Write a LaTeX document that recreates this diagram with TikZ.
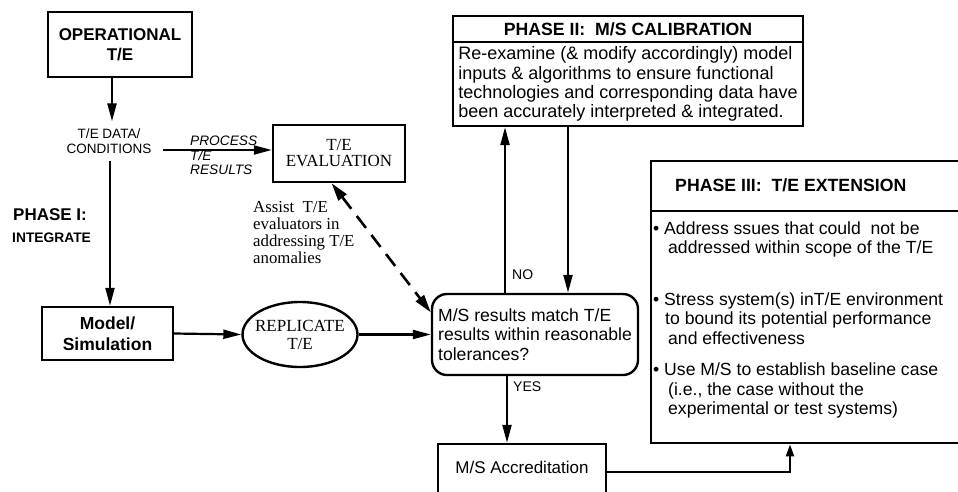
\documentclass[tikz,border=0pt]{standalone}
\usepackage{fontspec}
\setmainfont{Liberation Serif}
\setsansfont{Liberation Sans}
\usetikzlibrary{arrows.meta,shapes.geometric}
\begin{document}
\begin{tikzpicture}[x=1pt,y=-1pt,
  box/.style={draw, line width=2.4pt, inner sep=0pt, align=center},
  link/.style={line width=2.2pt, -{Triangle[length=18pt,width=9pt]}},
  smalllink/.style={line width=2.2pt, -{Triangle[length=12pt,width=8pt]}},
  dashlink/.style={line width=2.6pt, dash pattern=on 15pt off 9pt,
    {Triangle[length=18pt,width=10pt]}-{Triangle[length=18pt,width=10pt]}},
  sanstext/.style={font=\fontsize{17.6}{19.3}\selectfont\sffamily, align=left, inner sep=0pt},
  tag/.style={font=\fontsize{14}{16}\selectfont\sffamily, inner sep=0pt, anchor=west}]

\path[use as bounding box, clip] (0,0) rectangle (958,491);
\fill[white] (0,0) rectangle (958,491);

% ---- Phase I column ----
\node[box, minimum width=144pt, minimum height=65pt,
      font=\fontsize{17}{20}\selectfont\sffamily\bfseries] (op) at (120,44.5) {OPERATIONAL\\T/E};
\node[font=\fontsize{13.5}{15}\selectfont\sffamily, align=center,
      inner xsep=11pt, inner ysep=7pt] (data) at (109,141) {T/E DATA/\\CONDITIONS};
\node[font=\fontsize{17}{20}\selectfont\sffamily\bfseries, anchor=west, inner sep=0pt] (ph1) at (13,215) {PHASE I:};
\node[font=\fontsize{13.8}{16}\selectfont\sffamily\bfseries, anchor=west, inner sep=0pt] (integ) at (12,238) {INTEGRATE};
\node[box, minimum width=131pt, minimum height=53pt,
      font=\fontsize{17.5}{21}\selectfont\sffamily\bfseries] (model) at (107.5,333.5) {Model/\\Simulation};

% ---- evaluation branch ----
\node[box, minimum width=132pt, minimum height=57pt,
      font=\fontsize{17}{16}\selectfont\rmfamily] (eval) at (339,153.5) {T/E\\EVALUATION};
\node[font=\fontsize{13.7}{14.5}\selectfont\sffamily\itshape, align=left, anchor=west,
      inner sep=0pt] (proc) at (190,155.5) {PROCESS\\T/E\\RESULTS};
\node[font=\fontsize{16.8}{17}\selectfont\rmfamily, align=left, anchor=west,
      inner sep=0pt] (assist) at (253,232.5) {Assist\ \ T/E\\evaluators in\\addressing T/E\\anomalies};

\node[ellipse, draw, line width=2.4pt, minimum width=115pt, minimum height=65pt, inner sep=0pt,
      label={[font=\fontsize{17}{18}\selectfont\rmfamily, align=center]center:REPLICATE\\T/E}]
      (rep) at (300,334.5) {};

% ---- decision ----
\node[draw, line width=2.4pt, rounded corners=15pt, minimum width=206pt, minimum height=81pt,
      sanstext] (dec) at (535,334.5) {M/S results match T/E\\results within reasonable\\tolerances?};
\node[tag] (no) at (512,275) {NO};
\node[tag] (yes) at (513,387) {YES};

% ---- Phase II ----
\node[box, minimum width=350pt, minimum height=26pt,
      font=\fontsize{17.7}{20}\selectfont\sffamily\bfseries] (p2h) at (628,29) {PHASE II:\ \ M/S CALIBRATION};
\node[box, minimum width=350pt, minimum height=84pt, sanstext,
      font=\fontsize{18}{19.3}\selectfont\sffamily] (p2) at (628,84)
  {Re-examine (\& modify accordingly) model\\inputs \& algorithms to ensure functional\\technologies and corresponding data have\\been accurately interpreted \& integrated.};

% ---- Phase III ----
\node[box, minimum width=320pt, minimum height=50pt, anchor=north west] (p3h) at (650,160) {};
\node[font=\fontsize{17.7}{20}\selectfont\sffamily\bfseries, anchor=west, inner sep=0pt] (p3title) at (675,185) {PHASE III:\ \ T/E EXTENSION};
\node[box, minimum width=320pt, minimum height=232pt, anchor=north west] (p3) at (650,210) {};
\node[sanstext, anchor=west] (b1) at (653,239.5)
  {\textbullet\ Address ssues that could\ \ not be\\\hspace*{15pt}addressed within scope of the T/E};
\node[sanstext, anchor=west] (b2) at (653,318.5)
  {\textbullet\ Stress system(s) inT/E environment\\\hspace*{12pt}to bound its potential performance\\\hspace*{15pt}and effectiveness};
\node[sanstext, anchor=west] (b3) at (653,390.5)
  {\textbullet\ Use M/S to establish baseline case\\\hspace*{15pt}(i.e., the case without the\\\hspace*{15pt}experimental or test systems)};

% ---- accreditation ----
\node[box, minimum width=168pt, minimum height=56pt,
      font=\fontsize{17}{18}\selectfont\sffamily] (acc) at (522,472) {\raisebox{9pt}{M/S Accreditation}};

% ---- connectors ----
\draw[link] ([xshift=-8pt]op.south) -- ([xshift=-8pt]op.south |- data.north);
\draw[link] ([xshift=1pt]data.south) -- ([xshift=1pt]data.south |- model.north);
\draw[link] ([yshift=-9pt]data.east) -- ([yshift=-9pt]data.east -| eval.west);
\draw[dashlink] (eval.-104) -- (dec.168);
\draw[link] (model.east) -- (rep.west);
\draw[link] (rep) -- (dec);
\draw[link] ([xshift=-30pt]dec.north) -- ([xshift=-30pt]dec.north |- p2.south);
\draw[link] ([xshift=33pt]dec.north |- p2.south) -- ([xshift=33pt]dec.north);
\draw[link] ([xshift=-28pt]dec.south) -- ([xshift=-28pt]dec.south |- acc.north);
\draw[smalllink] (acc.east) -| ([xshift=140pt]p3.south west);
\end{tikzpicture}
\end{document}
